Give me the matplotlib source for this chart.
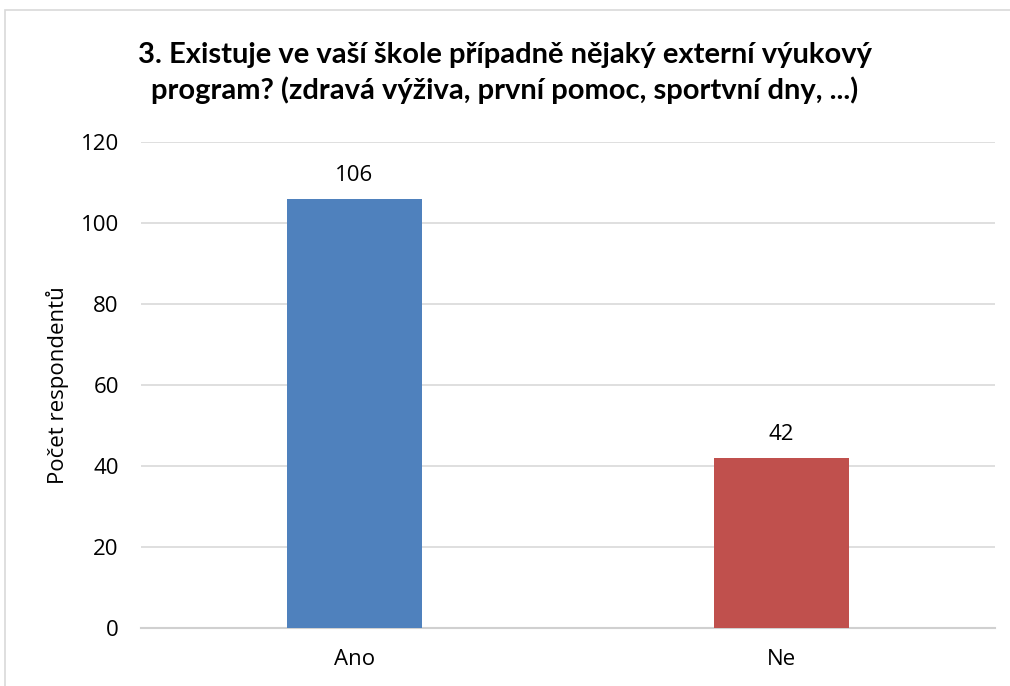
import matplotlib
matplotlib.use("Agg")
import matplotlib.pyplot as plt
from matplotlib.patches import Rectangle

categories = ["Ano", "Ne"]
values = [106, 42]
colors = ["#4F81BD", "#C0504D"]
yticks = [0, 20, 40, 60, 80, 100, 120]
title = "3. Existuje ve vaší škole případně nějaký externí výukový\nprogram? (zdravá výživa, první pomoc, sportvní dny, ...)"
ylabel = "Počet respondentů"

plt.rcParams['font.family'] = ['Open Sans', 'DejaVu Sans']

fig = plt.figure(figsize=(10.1, 6.86), dpi=100)
fig.patches.append(Rectangle((5/1010, -0.05), 1.1, 1 - 10/686 + 0.05, transform=fig.transFigure,
                             fill=False, edgecolor="#D9D9D9", linewidth=1.2))
ax = fig.add_axes([141/1010, 58/686, 854/1010, 486/686])

x = list(range(len(categories)))
bars = ax.bar(x, values, width=0.314, color=colors, zorder=3)
for xi, v in zip(x, values):
    ax.annotate(str(v), (xi, v), xytext=(0, 9), textcoords="offset points",
                ha="center", va="bottom", fontsize=16, color="#000000")

ax.set_xlim(-0.5, 1.5)
ax.set_ylim(0, 120)
ax.set_yticks(yticks)
ax.set_xticks(x)
ax.set_xticklabels(categories)
ax.tick_params(axis="both", length=0, labelsize=16, colors="#000000")
ax.tick_params(axis="y", pad=16)
ax.tick_params(axis="x", pad=15)
ax.grid(axis="y", color="#D9D9D9", linewidth=1.2, zorder=0)
for s in ["top", "right", "left"]:
    ax.spines[s].set_visible(False)
ax.spines["bottom"].set_color("#D0D0D0")
ax.spines["bottom"].set_linewidth(1.5)
ax.set_ylabel(ylabel, fontsize=16, labelpad=8)

fig.text(0.5, 1 - 73/686, title, ha="center", va="center", fontsize=21, fontweight="bold",
         linespacing=1.35, family=['Lato', 'DejaVu Sans'])

fig.savefig("out.png", dpi=100)
